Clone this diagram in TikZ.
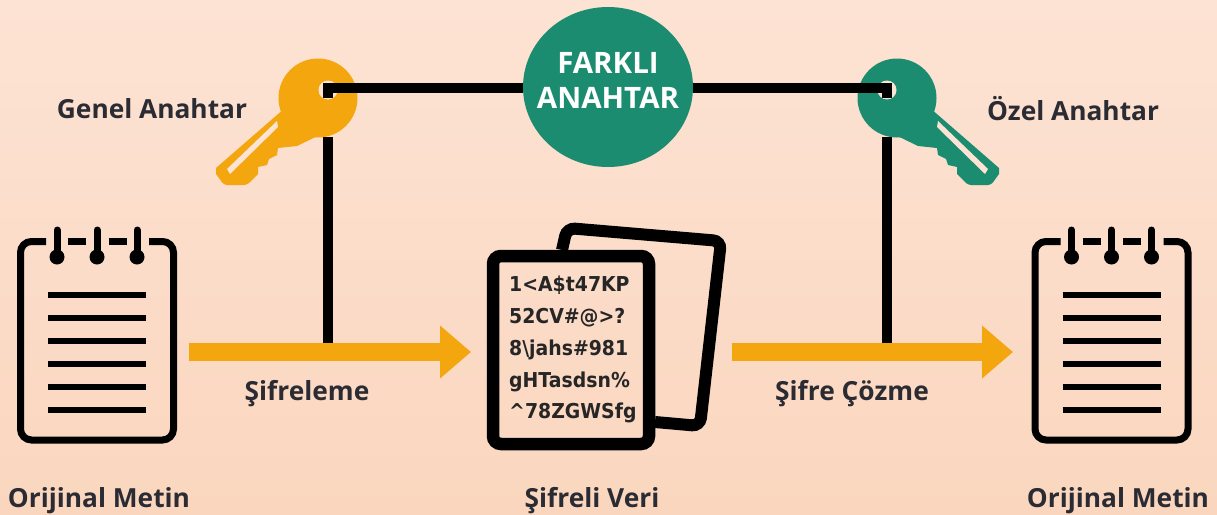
\documentclass[tikz,border=0pt]{standalone}
\usepackage{fontspec}
\usetikzlibrary{arrows.meta, shapes.geometric}
\setmainfont{Open Sans}
\newfontfamily\cipherfont[FakeStretch=0.92]{DejaVu Sans}
\definecolor{keyorange}{HTML}{F4A60F}
\definecolor{keygreen}{HTML}{1C8C70}
\definecolor{labelink}{HTML}{2B2B33}
\definecolor{bgtop}{HTML}{FDE3D4}
\definecolor{bgbottom}{HTML}{FAD6BE}
\tikzset{
    label/.style={text=labelink, font=\fontsize{26.3}{30}\selectfont\bfseries, inner sep=0pt},
    wire/.style={line width=10.5pt, black},
    flow/.style={keyorange, line width=18pt, -{Triangle[length=31pt, width=51pt]}},
    hole/.style={circle, fill=bgtop, minimum size=19pt, inner sep=0pt},
    key/.pic={
        % head with blade
        \fill[pic actions] (318,98) circle (39.5);
        \fill[pic actions] (285,108) -- (216,168) -- (216,174) [rounded corners=3pt] -- (224,185) -- (247,185) [sharp corners] -- (258,174) -- (258,167) -- (267,165) -- (269,159) -- (277,155) -- (278,148) -- (297,146) -- (330,130) -- cycle;
        \fill[bgtop] (277,121) -- (227,169) -- (230,174) -- (278,127) -- cycle;
    },
    notepad/.pic={
        % outline with gaps for the rings
        \draw[line width=7pt, rounded corners=11pt] (46,241.5) -- (20.5,241.5) -- (20.5,440) -- (173.5,440) -- (173.5,241.5) -- (149,241.5);
        \foreach \ringx in {57,97,137}{
            \draw[line width=7pt, line cap=round] (\ringx,230) -- (\ringx,256);
            \fill (\ringx,257) circle (7.5);
        }
        \foreach \gapx in {77,117.5}
            \draw[line width=6.5pt] (\gapx-9,241.5) -- (\gapx+9,241.5);
        \foreach \liney in {295,318,341,364,387,410}
            \draw[line width=6.5pt] (48,\liney) -- (146,\liney);
    }
}
\begin{document}
\begin{tikzpicture}[x=1pt, y=-1pt]
    \useasboundingbox (0,0) rectangle (1217,514);
    \shade[top color=bgtop, bottom color=bgbottom] (0,0) rectangle (1217,514);

    % Keys
    \pic[fill=keyorange] at (0,0) {key};
    \pic[fill=keygreen, xscale=-1] at (1215,0) {key};
    \node[hole] (holeleft) at (328,90) {};
    \node[hole] (holeright) at (887,90) {};

    % Centre ellipse
    \node[ellipse, fill=keygreen, minimum width=170pt, minimum height=160pt, inner sep=0pt] (farkli) at (608,87) {};
    \node[align=center, text=white, inner sep=0pt, font=\fontsize{29.5}{35}\selectfont\bfseries] (farklitext) at (608,80.5) {FARKLI\\ANAHTAR};

    % Arrows
    \coordinate (flowstartleft) at (189,352);
    \coordinate (flowendleft) at (471,352);
    \coordinate (flowstartright) at (732,352);
    \coordinate (flowendright) at (1013,352);
    \draw[flow] (flowstartleft) -- (flowendleft);
    \draw[flow] (flowstartright) -- (flowendright);

    % Wires
    \coordinate (bendleft) at (328,88);
    \coordinate (bendright) at (887,88);
    \coordinate (topleft) at (328,137);
    \coordinate (topright) at (887,137);
    \coordinate (dropleft) at (328,343);
    \coordinate (dropright) at (887,343);
    \draw[wire] (bendleft -| farkli.west) -- (bendleft) -- ++(0,10);
    \draw[wire] (bendright -| farkli.east) -- (bendright) -- ++(0,10);
    \draw[wire] (topleft) -- (dropleft);
    \draw[wire] (topright) -- (dropright);

    % Notepads
    \pic at (0,0) {notepad};
    \pic at (1014.5,0) {notepad};

    % Encrypted pages
    \draw[line width=12pt, rounded corners=8pt] (562,250) -- (567,228) -- (721,241) -- (700,426) -- (655,422);
    \draw[line width=12.5pt, rounded corners=8pt] (493,256) rectangle (649,444);
    \node[font=\cipherfont\fontsize{20.5}{31.8}\selectfont\bfseries, align=left, inner sep=0pt, anchor=north west, text=black!85] (cipher) at (509,276)
        {1<A\$t47KP\\52CV\#@>?\\8\textbackslash jahs\#981\\gHTasdsn\%\\\textasciicircum 78ZGWSfg};

    % Labels
    \node[label] (genel) at (152,109) {Genel Anahtar};
    \node[label] (ozel) at (1073,109) {Özel Anahtar};
    \node[label] (sifreleme) at (307,394) {Şifreleme};
    \node[label] (sifrecozme) at (852,394) {Şifre Çözme};
    \node[label] (metinleft) at (99,501) {Orijinal Metin};
    \node[label] (veri) at (592,501) {Şifreli Veri};
    \node[label] (metinright) at (1118,501) {Orijinal Metin};
\end{tikzpicture}
\end{document}
